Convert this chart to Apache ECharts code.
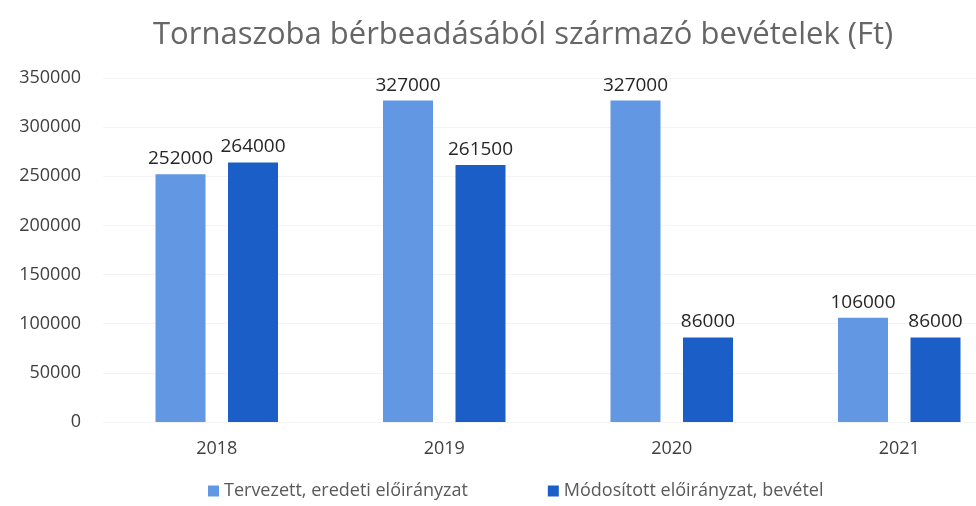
<!DOCTYPE html>
<html>
<head>
<meta charset="utf-8">
<script src="https://cdn.jsdelivr.net/npm/echarts@6/dist/echarts.min.js"></script>
<style>
html, body { margin: 0; padding: 0; background: #fff; }
#main { width: 976px; height: 506px; }
</style>
</head>
<body>
<div id="main"></div>
<script>
var years = ['2018', '2019', '2020', '2021'];
var planned = [252000, 327000, 327000, 106000];
var modified = [264000, 261500, 86000, 86000];
var yTicks = [0, 50000, 100000, 150000, 200000, 250000, 300000, 350000];

var myChart = echarts.init(document.getElementById('main'));

var labelStyle = {
    show: true,
    position: 'top',
    distance: 6,
    color: '#262626',
    fontSize: 19,
    fontFamily: 'Open Sans'
};

var option = {
    backgroundColor: '#fff',
    animation: false,
    title: {
        text: 'Tornaszoba bérbeadásából származó bevételek (Ft)',
        left: 148,
        top: 15,
        textStyle: {
            color: '#666666',
            fontSize: 31,
            fontWeight: 'normal',
            fontFamily: 'Open Sans'
        }
    },
    legend: {
        bottom: 1,
        left: 203,
        itemWidth: 11,
        itemHeight: 11,
        itemGap: 80,
        icon: 'rect',
        textStyle: {
            color: '#595959',
            fontSize: 18,
            fontFamily: 'Open Sans'
        }
    },
    grid: {
        left: 103,
        width: 910,
        top: 78,
        bottom: 84,
        outerBoundsMode: 'none',
        containLabel: false
    },
    xAxis: {
        type: 'category',
        data: years,
        axisLine: { show: false },
        axisTick: { show: false },
        axisLabel: {
            color: '#404040',
            fontSize: 18,
            margin: 18,
            fontFamily: 'Open Sans'
        }
    },
    yAxis: {
        type: 'value',
        min: yTicks[0],
        max: yTicks[yTicks.length - 1],
        interval: 50000,
        axisLine: { show: false },
        axisTick: { show: false },
        axisLabel: {
            color: '#404040',
            fontSize: 18,
            margin: 22,
            fontFamily: 'Open Sans',
            formatter: function (v) { return String(v); }
        },
        splitLine: { lineStyle: { color: '#f4f4f4' } }
    },
    series: [
        {
            name: 'Tervezett, eredeti előirányzat',
            type: 'bar',
            data: planned,
            barWidth: 50,
            barGap: '45%',
            itemStyle: { color: '#6298e3' },
            label: labelStyle
        },
        {
            name: 'Módosított előirányzat, bevétel',
            type: 'bar',
            data: modified,
            barWidth: 50,
            itemStyle: { color: '#1b5ec7' },
            label: labelStyle
        }
    ]
};

myChart.setOption(option);
</script>
</body>
</html>
